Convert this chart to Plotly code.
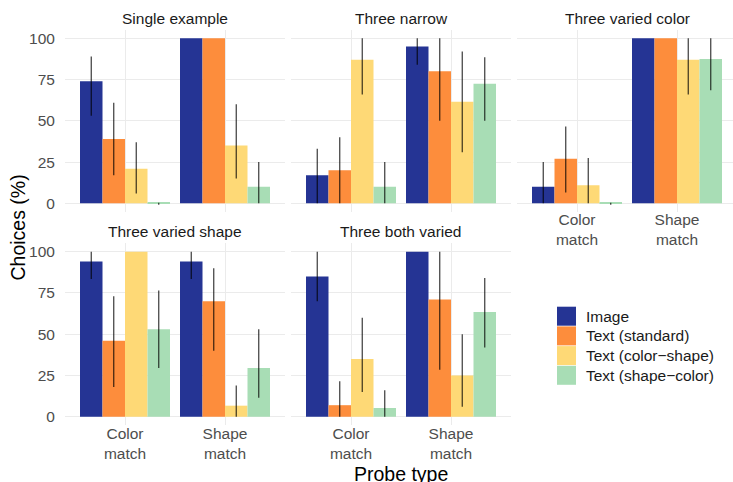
import plotly.graph_objects as go

# ---------------- data ----------------
panels = ["Single example", "Three narrow", "Three varied color",
          "Three varied shape", "Three both varied"]
probe_types = ["Color match", "Shape match"]
probe_labels = ["Color<br>match", "Shape<br>match"]
series = ["Image", "Text (standard)", "Text (color\u2212shape)", "Text (shape\u2212color)"]
colors = ["#253494", "#FD8D3C", "#FED976", "#A8DDB5"]

# per panel: [Color match, Shape match]
image_mean = [[74, 100], [17, 95], [10, 100], [94, 94], [85, 100]]
image_lo   = [[53, 100], [0, 84], [0, 100], [83.5, 83.5], [70, 100]]
image_hi   = [[89, 100], [33, 100], [25, 100], [100, 100], [100, 100]]

std_mean = [[39, 100], [20, 80], [27, 100], [46, 70], [7, 71]]
std_lo   = [[17, 100], [0, 50], [6.5, 100], [18, 40], [0, 28.5]]
std_hi   = [[61, 100], [40, 100], [46.5, 100], [73, 90], [21.5, 100]]

cs_mean = [[21, 35], [87, 61.5], [11, 87], [100, 6.7], [35, 25]]
cs_lo   = [[6, 15], [66, 31], [0, 66], [100, 0], [15, 6]]
cs_hi   = [[37, 60], [100, 92], [27.5, 100], [100, 19], [60, 50]]

sc_mean = [[0.4, 10], [10, 72.5], [0.4, 87.5], [53, 29.5], [5.3, 63.5]]
sc_lo   = [[-0.8, 0], [0, 50], [-0.8, 68.5], [29.5, 11.5], [0, 42]]
sc_hi   = [[0.4, 25], [25, 88.5], [0.4, 100], [76.5, 53], [16, 84]]

means = [image_mean, std_mean, cs_mean, sc_mean]
los = [image_lo, std_lo, cs_lo, sc_lo]
his = [image_hi, std_hi, cs_hi, sc_hi]

y_ticks = [0, 25, 50, 75, 100]

# ---------------- layout geometry ----------------
W, H = 733, 482
FONT = "Liberation Sans, Arial, sans-serif"
px_x = [(65, 285), (291, 511), (517, 733), (65, 285), (291, 511)]
px_y = [(30, 211.6), (30, 211.6), (30, 211.6), (243.4, 425), (243.4, 425)]
x_ranges = [[-0.6, 1.6]] * 5
x_ranges[2] = [-0.6, 1.6 - 4 / 100]

fig = go.Figure()

for p in range(5):
    ax = "" if p == 0 else str(p + 1)
    for s in range(4):
        m = means[s][p]
        lo = los[s][p]
        hi = his[s][p]
        fig.add_trace(go.Bar(
            x=probe_types, y=m,
            name=series[s], legendgroup=series[s], showlegend=False,
            marker=dict(color=colors[s], line=dict(width=0)),
            error_y=dict(type="data", symmetric=False,
                         array=[h - v for h, v in zip(hi, m)],
                         arrayminus=[v - l for v, l in zip(m, lo)],
                         thickness=1.2, width=0, color="rgba(0,0,0,0.78)"),
            offsetgroup=str(s),
            xaxis="x" + ax, yaxis="y" + ax,
            hoverinfo="skip",
        ))

layout = dict(
    width=W, height=H, margin=dict(l=0, r=0, t=0, b=0),
    paper_bgcolor="white", plot_bgcolor="white",
    barmode="group", bargap=0.1, bargroupgap=0,
    font=dict(family=FONT, size=15.5, color="#1A1A1A"),
    showlegend=False,
)

annotations = []
shapes = []
for p in range(5):
    ax = "" if p == 0 else str(p + 1)
    x0, x1 = px_x[p]
    y0, y1 = px_y[p]
    show_x = p in (2, 3, 4)
    show_y = p in (0, 3)
    layout["xaxis" + ax] = dict(
        domain=[x0 / W, x1 / W], anchor="y" + ax,
        type="category", categoryarray=probe_types, range=x_ranges[p],
        tickvals=probe_types, ticktext=probe_labels,
        showticklabels=show_x, ticks="", ticklen=0, ticklabelstandoff=-3,
        tickfont=dict(family=FONT, size=15.5, color="#4D4D4D"),
        showgrid=True, gridcolor="#EBEBEB", gridwidth=1.1, zeroline=False,
        showline=False, fixedrange=True,
    )
    layout["yaxis" + ax] = dict(
        domain=[1 - y1 / H, 1 - y0 / H], anchor="x" + ax,
        range=[-5, 105], tickvals=y_ticks,
        showticklabels=show_y, ticks="outside", ticklen=6, tickcolor="rgba(0,0,0,0)",
        tickfont=dict(family=FONT, size=15.5, color="#4D4D4D"),
        showgrid=True, gridcolor="#EBEBEB", gridwidth=1.1, zeroline=False,
        showline=False, fixedrange=True,
    )
    annotations.append(dict(
        text=panels[p], xref="paper", yref="paper",
        x=(x0 + x1) / 2 / W if p != 2 else (517 + 737) / 2 / W,
        y=1 - (y0 - 11.5) / H,
        xanchor="center", yanchor="middle", showarrow=False,
        font=dict(family=FONT, size=15.5, color="#1A1A1A"),
    ))

# custom legend (keys 19px, rows ~19.7px apart)
leg_x, leg_y0, key, step = 557, 306.7, 19, 19.7
for s in range(4):
    top = leg_y0 + s * step
    shapes.append(dict(
        type="rect", xref="paper", yref="paper",
        x0=leg_x / W, x1=(leg_x + key) / W,
        y0=1 - (top + key) / H, y1=1 - top / H,
        fillcolor=colors[s], line=dict(width=0),
    ))
    annotations.append(dict(
        text=series[s], xref="paper", yref="paper",
        x=(leg_x + 27) / W, y=1 - (top + key / 2) / H,
        xanchor="left", yanchor="middle", showarrow=False,
        font=dict(family=FONT, size=15.5, color="#1A1A1A"),
    ))

annotations.append(dict(
    text="Choices (%)", xref="paper", yref="paper",
    x=17.5 / W, y=1 - 228 / H, textangle=-90,
    xanchor="center", yanchor="middle", showarrow=False,
    font=dict(family=FONT, size=19.5, color="black"),
))
annotations.append(dict(
    text="Probe type", xref="paper", yref="paper",
    x=401 / W, y=1 - 474 / H,
    xanchor="center", yanchor="middle", showarrow=False,
    font=dict(family=FONT, size=19.5, color="black"),
))
layout["annotations"] = annotations
layout["shapes"] = shapes

fig.update_layout(**layout)
fig.write_html(
    "out.html",
    config={"displayModeBar": False},
    post_script="document.body.style.margin='0px';document.body.style.overflow='hidden';",
)
